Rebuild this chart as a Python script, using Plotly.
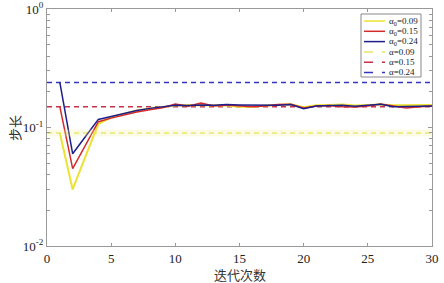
import plotly.graph_objects as go

iters = list(range(1, 31))
alpha_vals = [0.09, 0.15, 0.24]
colors_solid = ["#ece232", "#d42a2a", "#1e1e8c"]
colors_dash = ["#e6e66a", "#c83246", "#3535c0"]

y_009 = [0.090, 0.030, 0.057, 0.107, 0.122, 0.131, 0.139, 0.145, 0.150, 0.153,
         0.155, 0.154, 0.155, 0.153, 0.150, 0.150, 0.153, 0.155, 0.157, 0.148,
         0.154, 0.155, 0.156, 0.153, 0.154, 0.156, 0.154, 0.154, 0.156, 0.155]
y_015 = [0.150, 0.045, 0.071, 0.112, 0.120, 0.128, 0.135, 0.141, 0.147, 0.158,
         0.151, 0.161, 0.152, 0.155, 0.152, 0.150, 0.152, 0.156, 0.157, 0.146,
         0.152, 0.153, 0.150, 0.149, 0.152, 0.158, 0.152, 0.146, 0.150, 0.152]
y_024 = [0.240, 0.060, 0.084, 0.117, 0.124, 0.132, 0.139, 0.145, 0.150, 0.154,
         0.153, 0.155, 0.154, 0.156, 0.155, 0.154, 0.153, 0.154, 0.156, 0.144,
         0.152, 0.154, 0.154, 0.151, 0.153, 0.157, 0.150, 0.151, 0.151, 0.152]
series = [y_009, y_015, y_024]

x_ticks = [0, 5, 10, 15, 20, 25, 30]
y_tickvals = [0.01, 0.1, 1]
y_ticktext = ["10<sup>-2</sup>", "10<sup>-1</sup>", "10<sup>0</sup>"]
y_minor = [m * d for d in (0.01, 0.1) for m in range(2, 10)]

solid_names = ["α<sub>0</sub>=%.2f" % a for a in alpha_vals]
dash_names = ["α=%.2f" % a for a in alpha_vals]

fig = go.Figure()
# soft halo under the yellow dashed line, drawn on the minor-tick axis (same scale)
fig.add_trace(go.Scatter(x=[x_ticks[0], x_ticks[-1]], y=[alpha_vals[0]] * 2, mode="lines",
                         yaxis="y2",
                         line=dict(color="rgba(240,240,150,0.25)", width=7), showlegend=False,
                         hoverinfo="skip"))
for a, c in zip(alpha_vals, colors_dash):
    fig.add_trace(go.Scatter(x=[x_ticks[0], x_ticks[-1]], y=[a, a], mode="lines",
                             line=dict(color=c, width=1.5, dash="5px,4px"), showlegend=False))
for ys, c in zip(series, colors_solid):
    fig.add_trace(go.Scatter(x=iters, y=ys, mode="lines",
                             line=dict(color=c, width=2 if c == colors_solid[0] else 1.5),
                             showlegend=False))

L, R, T, B = 47, 12, 9, 37
W, H = 444, 283
pw, ph = W - L - R, H - T - B
def px(x):
    return (x - L) / pw
def py(y):
    return 1 - (y - T) / ph

shapes = [dict(type="rect", xref="paper", yref="paper", x0=px(361), x1=px(421),
               y0=py(77), y1=py(14), line=dict(color="#888", width=1), fillcolor="white")]
annotations = []
names = solid_names + dash_names
cols = colors_solid + colors_dash
dashes = ["solid"] * 3 + ["dash"] * 3
for i, (n, c, d) in enumerate(zip(names, cols, dashes)):
    yy = 21 + i * 10.3
    shapes.append(dict(type="line", xref="paper", yref="paper", x0=px(364), x1=px(385),
                       y0=py(yy), y1=py(yy), line=dict(color=c, width=1.5, dash=d)))
    annotations.append(dict(xref="paper", yref="paper", x=px(387), y=py(yy), text=n,
                            showarrow=False, xanchor="left", yanchor="middle",
                            font=dict(family="Liberation Serif", size=9, color="#222")))

annotations.append(dict(xref="paper", yref="paper", x=0.5, y=py(274), text="迭代次数",
                        showarrow=False, xanchor="center", yanchor="middle",
                        font=dict(family="Noto Sans CJK SC", size=13, color="#333")))
annotations.append(dict(xref="paper", yref="paper", x=px(14), y=py(128), text="步长",
                        showarrow=False, xanchor="center", yanchor="middle", textangle=-90,
                        font=dict(family="Noto Sans CJK SC", size=13, color="#333")))

fig.update_layout(
    width=W, height=H, margin=dict(l=L, r=R, t=T, b=B, autoexpand=False),
    paper_bgcolor="white", plot_bgcolor="white",
    shapes=shapes, annotations=annotations, showlegend=False,
    font=dict(family="Liberation Serif", size=12, color="#222"),
    xaxis=dict(range=[0, 30], tickvals=x_ticks, ticks="inside", ticklen=3,
               tickcolor="#999", showline=True, linecolor="#999", linewidth=1,
               mirror="ticks", showgrid=False, zeroline=False, automargin=False,
               tickfont=dict(family="Liberation Serif", size=13)),
    yaxis=dict(type="log", range=[-2, 0], tickvals=y_tickvals, ticktext=y_ticktext,
               ticks="inside", ticklen=4, tickcolor="#999", showline=True,
               linecolor="#999", linewidth=1, mirror="ticks", showgrid=False,
               zeroline=False, automargin=False,
               tickfont=dict(family="Liberation Serif", size=13)),
    yaxis2=dict(type="log", range=[-2, 0], overlaying="y", side="left",
                tickmode="array", tickvals=y_minor, showticklabels=False,
                ticks="inside", ticklen=3, tickcolor="#999", mirror="ticks",
                showline=True, linecolor="#999", showgrid=False, zeroline=False,
                automargin=False),
)

fig.write_html("out.html", config={"displayModeBar": False},
               post_script="document.body.style.margin='0';")
